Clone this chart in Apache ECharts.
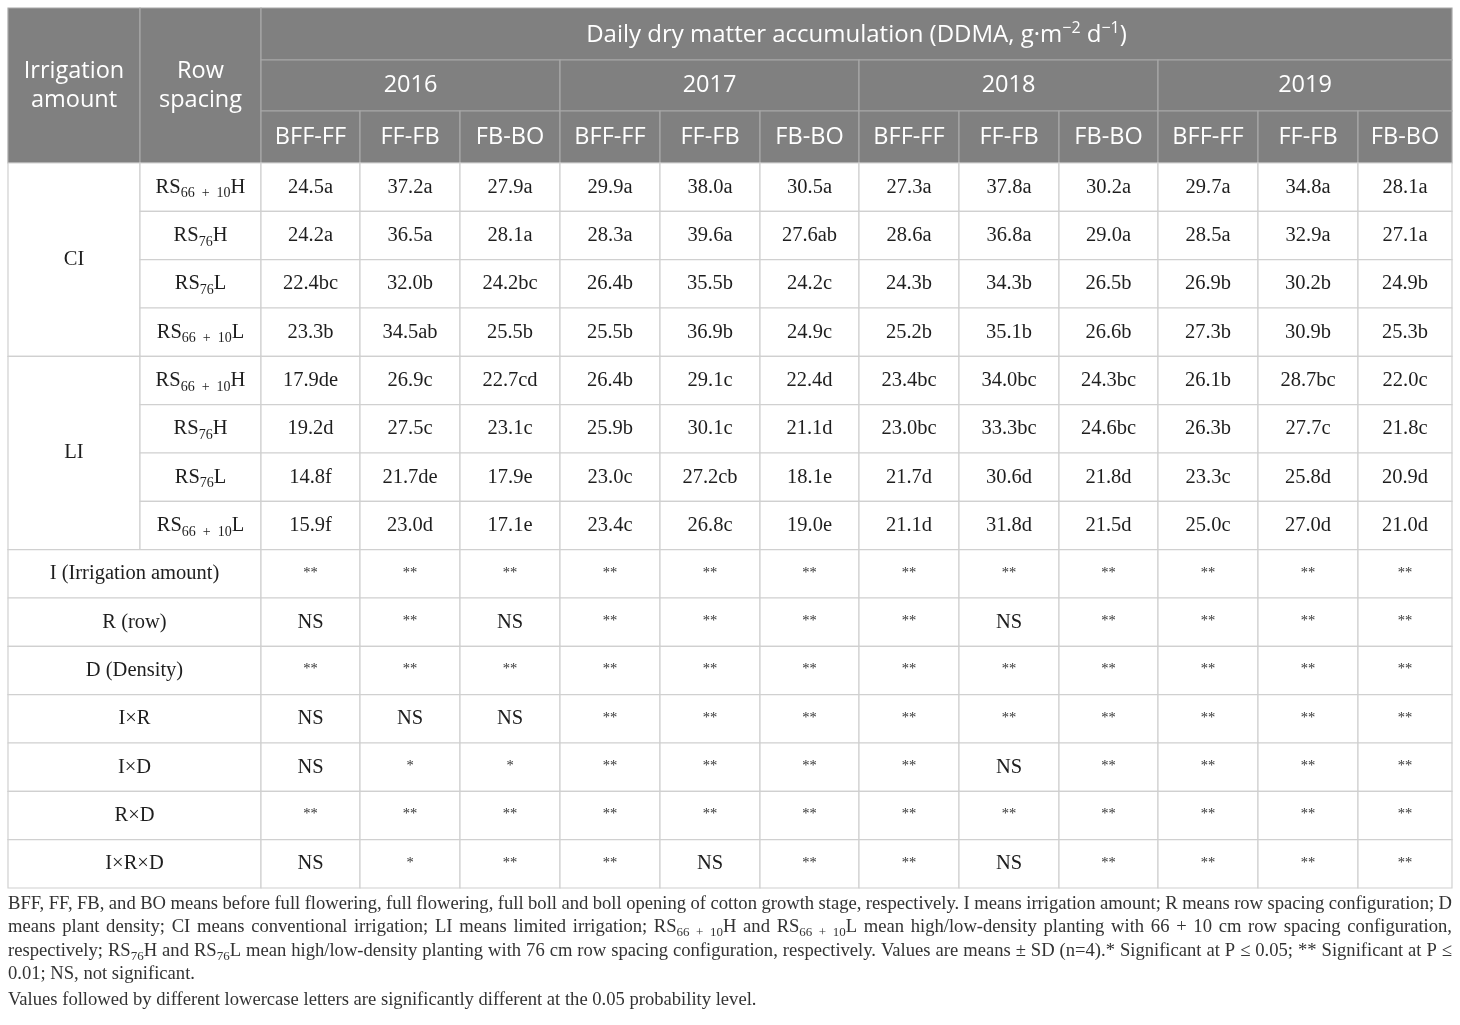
<!DOCTYPE html>
<html>
<head>
<meta charset="utf-8">
<title>Daily dry matter accumulation</title>
<script src="https://cdn.jsdelivr.net/npm/echarts@6/dist/echarts.min.js"></script>
<style>
html, body { margin: 0; padding: 0; background: #fff; }
#main { width: 1460px; height: 1025px; }
</style>
</head>
<body>
<div id="main"></div>
<script>
// ---- 表格数据 ----
var title = 'Daily dry matter accumulation (DDMA, g·m{sup|−2} d{sup|−1})';
var years = ['2016', '2017', '2018', '2019'];
var stages = ['BFF-FF', 'FF-FB', 'FB-BO'];
var irrigation = ['CI', 'LI'];
var rowSpacing = ['RS{sub|66\u2002+\u200210}H', 'RS{sub|76}H', 'RS{sub|76}L', 'RS{sub|66\u2002+\u200210}L'];

// DDMA 数值（每行 12 个：4 年 × 3 阶段）
var ddma = [
	[24.5, 37.2, 27.9, 29.9, 38.0, 30.5, 27.3, 37.8, 30.2, 29.7, 34.8, 28.1],
	[24.2, 36.5, 28.1, 28.3, 39.6, 27.6, 28.6, 36.8, 29.0, 28.5, 32.9, 27.1],
	[22.4, 32.0, 24.2, 26.4, 35.5, 24.2, 24.3, 34.3, 26.5, 26.9, 30.2, 24.9],
	[23.3, 34.5, 25.5, 25.5, 36.9, 24.9, 25.2, 35.1, 26.6, 27.3, 30.9, 25.3],
	[17.9, 26.9, 22.7, 26.4, 29.1, 22.4, 23.4, 34.0, 24.3, 26.1, 28.7, 22.0],
	[19.2, 27.5, 23.1, 25.9, 30.1, 21.1, 23.0, 33.3, 24.6, 26.3, 27.7, 21.8],
	[14.8, 21.7, 17.9, 23.0, 27.2, 18.1, 21.7, 30.6, 21.8, 23.3, 25.8, 20.9],
	[15.9, 23.0, 17.1, 23.4, 26.8, 19.0, 21.1, 31.8, 21.5, 25.0, 27.0, 21.0]
];
// 显著性字母
var letters = [
	['a', 'a', 'a', 'a', 'a', 'a', 'a', 'a', 'a', 'a', 'a', 'a'],
	['a', 'a', 'a', 'a', 'a', 'ab', 'a', 'a', 'a', 'a', 'a', 'a'],
	['bc', 'b', 'bc', 'b', 'b', 'c', 'b', 'b', 'b', 'b', 'b', 'b'],
	['b', 'ab', 'b', 'b', 'b', 'c', 'b', 'b', 'b', 'b', 'b', 'b'],
	['de', 'c', 'cd', 'b', 'c', 'd', 'bc', 'bc', 'bc', 'b', 'bc', 'c'],
	['d', 'c', 'c', 'b', 'c', 'd', 'bc', 'bc', 'bc', 'b', 'c', 'c'],
	['f', 'de', 'e', 'c', 'cb', 'e', 'd', 'd', 'd', 'c', 'd', 'd'],
	['f', 'd', 'e', 'c', 'c', 'e', 'd', 'd', 'd', 'c', 'd', 'd']
];

var effects = ['I (Irrigation amount)', 'R (row)', 'D (Density)', 'I×R', 'I×D', 'R×D', 'I×R×D'];
var signif = [
	['**', '**', '**', '**', '**', '**', '**', '**', '**', '**', '**', '**'],
	['NS', '**', 'NS', '**', '**', '**', '**', 'NS', '**', '**', '**', '**'],
	['**', '**', '**', '**', '**', '**', '**', '**', '**', '**', '**', '**'],
	['NS', 'NS', 'NS', '**', '**', '**', '**', '**', '**', '**', '**', '**'],
	['NS', '*', '*', '**', '**', '**', '**', 'NS', '**', '**', '**', '**'],
	['**', '**', '**', '**', '**', '**', '**', '**', '**', '**', '**', '**'],
	['NS', '*', '**', '**', 'NS', '**', '**', 'NS', '**', '**', '**', '**']
];

// 表注
var notes = [
	'BFF, FF, FB, and BO means before full flowering, full flowering, full boll and boll opening of cotton growth stage, respectively. I means irrigation amount; R means row spacing configuration; D',
	'means plant density; CI means conventional irrigation; LI means limited irrigation; RS{sub|66\u2002+\u200210}H and RS{sub|66\u2002+\u200210}L mean high/low-density planting with 66 + 10 cm row spacing configuration,',
	'respectively; RS{sub|76}H and RS{sub|76}L mean high/low-density planting with 76 cm row spacing configuration, respectively. Values are means ± SD (n=4).* Significant at P ≤ 0.05; ** Significant at P ≤',
	'0.01; NS, not significant.',
	'Values followed by different lowercase letters are significantly different at the 0.05 probability level.'
];
var notesJustify = [true, true, true, false, false];

// ---- 版式 ----
var colEdges = [8, 140, 261, 360, 460, 560, 660, 760, 859, 959, 1059, 1158, 1258, 1358, 1452];
var headEdges = [8, 60, 111, 163];
var bodyTop = 163, bodyBottom = 888, bodyRows = 15;
var noteY = [904, 927, 951, 974, 1000];

var SANS = 'Open Sans';
var SERIF = 'Liberation Serif';

var styles = {
	head: { fill: '#808080', stroke: '#a8a8a8', color: '#ffffff', font: SANS, size: 23.5 },
	body: { fill: '#ffffff', stroke: '#d0d0d0', color: '#1e1e1e', font: SERIF, size: 20.5 },
	sig: { fill: '#ffffff', stroke: '#d0d0d0', color: '#333333', font: SERIF, size: 14.5 }
};

function rowEdge(i) {
	return bodyTop + i * (bodyBottom - bodyTop) / bodyRows;
}

// 生成单元格
var cells = [];
function addCell(c0, c1, y0, y1, text, kind) {
	cells.push({ x0: colEdges[c0], x1: colEdges[c1], y0: y0, y1: y1, text: text, kind: kind });
}

addCell(0, 1, headEdges[0], headEdges[3], 'Irrigation\namount', 'head');
addCell(1, 2, headEdges[0], headEdges[3], 'Row\nspacing', 'head');
addCell(2, 14, headEdges[0], headEdges[1], title, 'head');
for (var y = 0; y < years.length; y++) {
	addCell(2 + y * 3, 5 + y * 3, headEdges[1], headEdges[2], years[y], 'head');
	for (var s = 0; s < stages.length; s++) {
		addCell(2 + y * 3 + s, 3 + y * 3 + s, headEdges[2], headEdges[3], stages[s], 'head');
	}
}

for (var g = 0; g < irrigation.length; g++) {
	addCell(0, 1, rowEdge(g * 4), rowEdge(g * 4 + 4), irrigation[g], 'body');
	for (var r = 0; r < rowSpacing.length; r++) {
		var ri = g * 4 + r;
		addCell(1, 2, rowEdge(ri), rowEdge(ri + 1), rowSpacing[r], 'body');
		for (var k = 0; k < 12; k++) {
			addCell(2 + k, 3 + k, rowEdge(ri), rowEdge(ri + 1), ddma[ri][k].toFixed(1) + letters[ri][k], 'body');
		}
	}
}

for (var e = 0; e < effects.length; e++) {
	var ei = 8 + e;
	addCell(0, 2, rowEdge(ei), rowEdge(ei + 1), effects[e], 'body');
	for (var k = 0; k < 12; k++) {
		addCell(2 + k, 3 + k, rowEdge(ei), rowEdge(ei + 1), signif[e][k], signif[e][k] === 'NS' ? 'body' : 'sig');
	}
}

var seriesData = cells.map(function(c) {
	return [c.x0, c.y0, c.x1, c.y1];
});

function richFor(st) {
	return {
		sub: { fontSize: 14, fontFamily: st.font, fill: st.color, verticalAlign: 'bottom', lineHeight: 27 },
		sup: { fontSize: 16, fontFamily: st.font, fill: st.color, verticalAlign: 'top', lineHeight: 30 }
	};
}

function renderCell(params, api) {
	var c = cells[params.dataIndex];
	var st = styles[c.kind];
	var p0 = api.coord([api.value(0), api.value(1)]);
	var p1 = api.coord([api.value(2), api.value(3)]);
	var isTitle = c.text === title;
	return {
		type: 'group',
		children: [{
			type: 'rect',
			shape: { x: p0[0], y: p0[1], width: p1[0] - p0[0], height: p1[1] - p0[1] },
			style: { fill: st.fill, stroke: st.stroke, lineWidth: 1.2 }
		}, {
			type: 'text',
			style: {
				x: (p0[0] + p1[0]) / 2,
				y: (p0[1] + p1[1]) / 2 + (c.kind === 'sig' ? -1 : 0) + (isTitle ? 1 : 0),
				text: c.text,
				align: 'center',
				verticalAlign: 'middle',
				fill: st.color,
				fontFamily: st.font,
				fontSize: isTitle ? 24 : st.size,
				lineHeight: c.kind === 'head' ? (isTitle ? 30 : 29) : 27,
				rich: richFor(st)
			}
		}]
	};
}

// ---- 表注：两端对齐 ----
var measureCtx = document.createElement('canvas').getContext('2d');
var NOTE_SIZE = 18.6, NOTE_SUB = 13;
function measureWord(w) {
	var re = /\{(\w+)\|([^}]*)\}|([^{]+)/g, m, width = 0;
	while ((m = re.exec(w)) !== null) {
		if (m[1]) {
			measureCtx.font = NOTE_SUB + 'px "' + SERIF + '"';
			width += measureCtx.measureText(m[2]).width;
		} else {
			measureCtx.font = NOTE_SIZE + 'px "' + SERIF + '"';
			width += measureCtx.measureText(m[3]).width;
		}
	}
	return width;
}
function splitWords(line) {
	// 按空格拆词，{sub|...} 中的空格不拆
	var raw = line.split(' '), out = [], buf = null;
	for (var i = 0; i < raw.length; i++) {
		if (buf !== null) {
			buf += ' ' + raw[i];
			if (raw[i].indexOf('}') >= 0) { out.push(buf); buf = null; }
		} else if (raw[i].indexOf('{') >= 0 && raw[i].indexOf('}') < 0) {
			buf = raw[i];
		} else {
			out.push(raw[i]);
		}
	}
	return out;
}

var noteRich = {
	sub: { fontSize: NOTE_SUB, fontFamily: SERIF, fill: '#333', verticalAlign: 'bottom', lineHeight: 24 }
};
var graphics = [];
var noteLeft = 8, noteRight = 1452;
for (var n = 0; n < notes.length; n++) {
	var words = splitWords(notes[n]);
	var widths = words.map(measureWord);
	var total = widths.reduce(function(a, b) { return a + b; }, 0);
	measureCtx.font = NOTE_SIZE + 'px "' + SERIF + '"';
	var gap = measureCtx.measureText(' ').width;
	if (notesJustify[n] && words.length > 1) {
		gap = (noteRight - noteLeft - total) / (words.length - 1);
	}
	var xPos = noteLeft;
	for (var w = 0; w < words.length; w++) {
		graphics.push({
			type: 'text',
			x: xPos,
			y: noteY[n],
			style: {
				text: words[w],
				fill: '#333',
				fontFamily: SERIF,
				fontSize: NOTE_SIZE,
				lineHeight: 24,
				verticalAlign: 'middle',
				rich: noteRich
			}
		});
		xPos += widths[w] + gap;
	}
}

var myChart = echarts.init(document.getElementById('main'));
var option = {
	animation: false,
	grid: { left: 8, top: 8, width: 1444, height: 880 },
	xAxis: { type: 'value', min: 8, max: 1452, show: false },
	yAxis: { type: 'value', min: 8, max: 888, inverse: true, show: false },
	series: [{
		type: 'custom',
		coordinateSystem: 'cartesian2d',
		renderItem: renderCell,
		data: seriesData,
		silent: true
	}],
	graphic: graphics
};
myChart.setOption(option);
</script>
</body>
</html>
